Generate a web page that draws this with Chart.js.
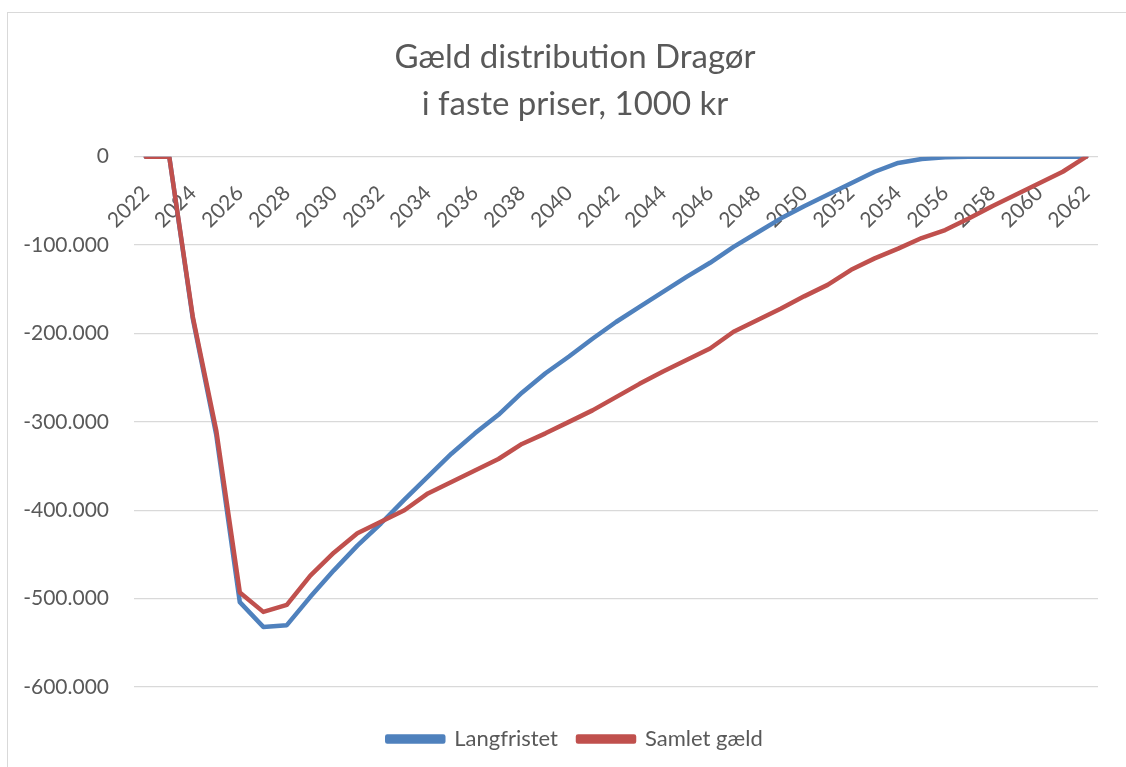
<!DOCTYPE html>
<html>
<head>
<meta charset="utf-8">
<script src="https://cdn.jsdelivr.net/npm/chart.js@4/dist/chart.umd.min.js"></script>
<style>
  html, body { margin: 0; padding: 0; background: #fff; }
  body { width: 1126px; height: 767px; position: relative; overflow: hidden; }
  #frame { position: absolute; left: 7px; top: 12px; width: 1140px; height: 800px; border: 1.5px solid #d9d9d9; box-sizing: border-box; }
  #wrap { position: absolute; left: 0; top: 0; width: 1150px; height: 767px; }
</style>
</head>
<body>
<div id="frame"></div>
<div id="wrap"><canvas id="chart"></canvas></div>
<script>
// Gæld distribution Dragør, i faste priser (1000 kr)
const years = ['2022', '2023', '2024', '2025', '2026', '2027', '2028', '2029', '2030', '2031',
  '2032', '2033', '2034', '2035', '2036', '2037', '2038', '2039', '2040', '2041',
  '2042', '2043', '2044', '2045', '2046', '2047', '2048', '2049', '2050', '2051',
  '2052', '2053', '2054', '2055', '2056', '2057', '2058', '2059', '2060', '2061', '2062'];

const langfristet = [0, 0, -183000, -315000, -504000, -532000, -530000, -498000, -468000, -440000,
  -415000, -388000, -362000, -336000, -313000, -292000, -267000, -245000, -226000, -206000,
  -187000, -170000, -153000, -136000, -120000, -102000, -86000, -70000, -56000, -43000,
  -30000, -17000, -7000, -2500, -700, 0, 0, 0, 0, 0, 0];

const samletGaeld = [0, 0, -181000, -310000, -493000, -515000, -507000, -474000, -448000, -426000,
  -413000, -400000, -381000, -368000, -355000, -342000, -325000, -313000, -300000, -287000,
  -272000, -257000, -243000, -230000, -217000, -198000, -185000, -172000, -158000, -145000,
  -128000, -115000, -104000, -92000, -83000, -70000, -56000, -43000, -30000, -17000, 0];

const yTicks = [0, -100000, -200000, -300000, -400000, -500000, -600000];

const textGray = '#595959';
const fontFamily = 'Lato, "Open Sans", sans-serif';

function danish(v) {
  const s = Math.abs(v).toString().replace(/\B(?=(\d{3})+(?!\d))/g, '.');
  return (v < 0 ? '-' : '') + s;
}

new Chart(document.getElementById('chart').getContext('2d'), {
  type: 'line',
  data: {
    labels: years,
    datasets: [{
      label: 'Langfristet',
      data: langfristet,
      borderColor: '#4f81bd',
      backgroundColor: '#4f81bd',
      borderWidth: 4.5,
      pointRadius: 0,
      tension: 0,
      borderCapStyle: 'round',
      borderJoinStyle: 'round',
      order: 1
    }, {
      label: 'Samlet gæld',
      data: samletGaeld,
      borderColor: '#c0504d',
      backgroundColor: '#c0504d',
      borderWidth: 4.5,
      pointRadius: 0,
      tension: 0,
      borderCapStyle: 'round',
      borderJoinStyle: 'round',
      order: 0
    }]
  },
  options: {
    responsive: true,
    maintainAspectRatio: false,
    animation: false,
    layout: { padding: { left: 20, right: 20, top: 0, bottom: 7 } },
    plugins: {
      title: {
        display: true,
        text: ['Gæld distribution Dragør', 'i faste priser, 1000 kr'],
        color: textGray,
        font: { family: fontFamily, size: 33, weight: 'normal', lineHeight: 1.42 },
        padding: { top: 34, bottom: 29 }
      },
      legend: {
        position: 'bottom',
        labels: {
          color: textGray,
          font: { family: fontFamily, size: 22 },
          boxWidth: 56,
          boxHeight: 5,
          padding: 20,
          sort: (a, b) => a.datasetIndex - b.datasetIndex
        }
      },
      tooltip: { enabled: false }
    },
    scales: {
      x: {
        type: 'category',
        position: { y: 0 },
        offset: true,
        grid: { display: false },
        border: { display: false },
        ticks: {
          color: textGray,
          font: { family: fontFamily, size: 21 },
          autoSkip: false,
          minRotation: 45,
          maxRotation: 45,
          padding: 16,
          callback: (v, i) => (i % 2 === 0 ? years[i] : '')
        }
      },
      x2: {
        type: 'category',
        position: 'bottom',
        display: true,
        grid: { display: false },
        border: { display: false },
        ticks: { display: false },
        afterFit: s => { s.height = 21; }
      },
      y: {
        min: -600000,
        max: 0,
        afterBuildTicks: s => { s.ticks = yTicks.map(v => ({ value: v })); },
        grid: { color: '#d9d9d9', lineWidth: 1.3, drawTicks: false },
        border: { display: false },
        ticks: {
          color: textGray,
          font: { family: fontFamily, size: 21 },
          padding: 25,
          callback: v => danish(v)
        },
        afterFit: s => { s.width = 114; }
      },
      yPad: {
        type: 'linear',
        position: 'right',
        display: true,
        grid: { display: false },
        border: { display: false },
        ticks: { display: false },
        afterFit: s => { s.width = 32; }
      }
    }
  }
});
</script>
</body>
</html>
